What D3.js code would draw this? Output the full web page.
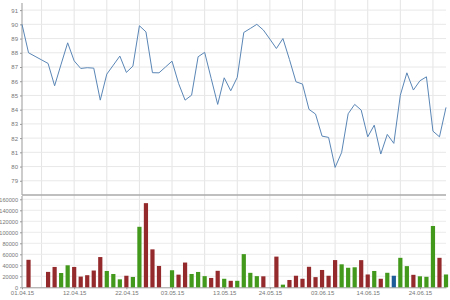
<!DOCTYPE html>
<html>
<head>
<meta charset="utf-8">
<script src="https://cdn.jsdelivr.net/npm/d3@7"></script>
<style>
  body { margin: 0; background: #fff; }
  svg { display: block; }
  .tick text { font-family: "Liberation Sans", Arial, sans-serif; font-size: 6px; fill: #777; }
</style>
</head>
<body>
<svg id="chart"></svg>
<script>
// price per day (index 0 = 01.04.15)
const prices = [
    90.0, 88.0, 87.75, 87.5, 87.25, 85.68, 87.2, 88.7, 87.43, 86.9,
    86.95, 86.92, 84.67, 86.5, 87.13, 87.77, 86.62, 87.06, 89.9, 89.47,
    86.6, 86.59, 87.0, 87.41, 85.85, 84.67, 85.02, 87.72, 88.03, 86.2,
    84.37, 86.24, 85.33, 86.27, 89.43, 89.71, 90.0, 89.6, 88.96, 88.3,
    89.0, 87.53, 85.96, 85.8, 84.02, 83.69, 82.14, 82.05, 79.94, 80.99,
    83.71, 84.37, 83.97, 82.09, 82.91, 80.88, 82.26, 81.63, 85.02, 86.59,
    85.38, 86.03, 86.31, 82.49, 82.09, 84.16
];

// traded volume per day, null where no bar
const volumes = [
    null, 50000, null, null, 28000, 37000, 26000, 40000, 37000, 19500,
    22000, 30500, 55000, 29700, 24200, 14500, 21000, 18800, 110000, 153000,
    69000, 38800, null, 31000, 23000, 45000, 24200, 27900, 20300, 17000,
    30000, 15500, 11800, 11800, 60300, 26300, 20300, 20000, null, 55800,
    4800, 13300, 21000, 15500, 37300, 18500, 31500, 21000, 49500, 41800,
    35500, 36400, 49400, 23300, 29700, 15500, 26400, 21000, 53600, 38500,
    22700, 20000, 19100, 111500, 53600, 23300
];

// bar colour: d = down, u = up, n = neutral
const moves = [
    "", "d", "", "", "d", "d", "u", "u", "d", "d",
    "d", "d", "d", "u", "u", "u", "d", "u", "u", "d",
    "d", "d", "", "u", "d", "d", "u", "u", "u", "d",
    "d", "u", "d", "u", "u", "u", "u", "d", "", "d",
    "u", "d", "d", "d", "d", "d", "d", "d", "d", "u",
    "u", "u", "d", "d", "u", "d", "u", "n", "u", "u",
    "d", "u", "u", "u", "d", "u"
];

const dateTickIdx = [0, 8, 16, 23, 31, 38, 46, 53, 61];
const dateTickLabels = ["01.04.15", "12.04.15", "22.04.15", "03.05.15", "13.05.15",
                        "24.05.15", "03.06.15", "14.06.15", "24.06.15"];
const priceTicks = [79, 80, 81, 82, 83, 84, 85, 86, 87, 88, 89, 90, 91];
const volumeTicks = [0, 20000, 40000, 60000, 80000, 100000, 120000, 140000, 160000];

const width = 450, height = 300;
const left = 22, right = 446;
const priceTop = 3, priceBottom = 195;
const volTop = 196, volBottom = 287.3;

const svg = d3.select("#chart")
    .attr("width", width)
    .attr("height", height);

const x = d3.scaleLinear()
    .domain([0, prices.length - 1])
    .range([left, right]);

const yPrice = d3.scaleLinear()
    .domain([78, 91.5])
    .range([priceBottom, priceTop]);

const yVol = d3.scaleLinear()
    .domain([0, 160000])
    .range([volBottom, 199.3]);

const colors = { d: "#952a2c", u: "#42991c", n: "#1d5c98" };

// vertical grid (every 5 days)
svg.append("g")
    .selectAll("line")
    .data(d3.range(3, prices.length, 5))
    .enter()
    .append("line")
    .attr("x1", d => x(d)).attr("x2", d => x(d))
    .attr("y1", 0).attr("y2", volBottom)
    .attr("stroke", "#e4e4e4")
    .attr("stroke-width", 1);

// horizontal grid, price
svg.append("g")
    .selectAll("line")
    .data(priceTicks)
    .enter()
    .append("line")
    .attr("x1", left).attr("x2", right)
    .attr("y1", d => yPrice(d)).attr("y2", d => yPrice(d))
    .attr("stroke", "#e8e8e8");

// horizontal grid, volume
svg.append("g")
    .selectAll("line")
    .data(volumeTicks.slice(1))
    .enter()
    .append("line")
    .attr("x1", left).attr("x2", right)
    .attr("y1", d => yVol(d)).attr("y2", d => yVol(d))
    .attr("stroke", "#ebebeb");

// price axis
const priceAxis = svg.append("g")
    .attr("transform", `translate(${left},0)`)
    .call(d3.axisLeft(yPrice).tickValues(priceTicks).tickSize(2).tickPadding(2).tickSizeOuter(0));
priceAxis.select(".domain").attr("stroke", "#999").attr("d", `M0,${priceTop}V${priceBottom}`);
priceAxis.selectAll(".tick line").attr("stroke", "#999");

// volume axis
const volAxis = svg.append("g")
    .attr("transform", `translate(${left},0)`)
    .call(d3.axisLeft(yVol).tickValues(volumeTicks).tickFormat(d3.format("d"))
        .tickSize(2).tickPadding(2).tickSizeOuter(0));
volAxis.select(".domain").attr("stroke", "#999").attr("d", `M0,${volTop}V${volBottom}`);
volAxis.selectAll(".tick line").attr("stroke", "#999");
volAxis.selectAll(".tick text").style("font-size", "5.6px");

// date axis
const dateAxis = svg.append("g")
    .attr("transform", `translate(0,${volBottom})`)
    .call(d3.axisBottom(x)
        .tickValues(dateTickIdx)
        .tickFormat((d, i) => dateTickLabels[i])
        .tickSize(2).tickPadding(1).tickSizeOuter(0));
dateAxis.select(".domain").attr("stroke", "#999");
dateAxis.selectAll(".tick line").attr("stroke", "#999");

// separator between panels
svg.append("line")
    .attr("x1", left).attr("x2", right)
    .attr("y1", priceBottom).attr("y2", priceBottom)
    .attr("stroke", "#aaa")
    .attr("stroke-width", 1.5);

// volume bars
const barW = 4.2;
svg.append("g")
    .selectAll("rect")
    .data(volumes.map((v, i) => ({ i: i, v: v, m: moves[i] })).filter(d => d.v !== null))
    .enter()
    .append("rect")
    .attr("x", d => x(d.i) - barW / 2)
    .attr("width", barW)
    .attr("y", d => yVol(d.v))
    .attr("height", d => yVol(0) - yVol(d.v))
    .attr("fill", d => colors[d.m]);

// price line
const line = d3.line()
    .x((d, i) => x(i))
    .y(d => yPrice(d));

svg.append("path")
    .datum(prices)
    .attr("d", line)
    .attr("fill", "none")
    .attr("stroke", "#5a86b6")
    .attr("stroke-width", 1);
</script>
</body>
</html>
